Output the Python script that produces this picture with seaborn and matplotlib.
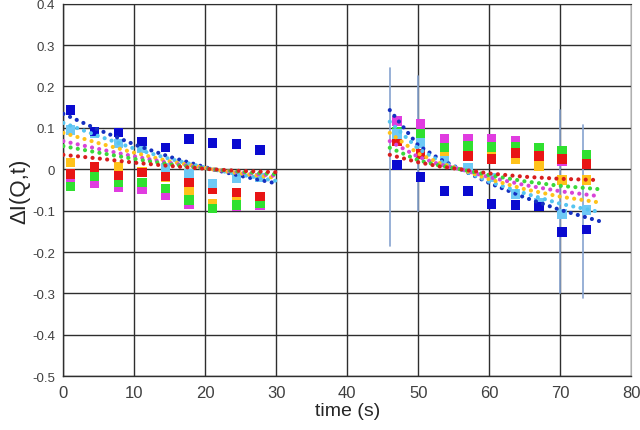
import pandas as pd
import seaborn as sns
import matplotlib.pyplot as plt

sns.set_style("white")
plt.rcParams['font.family'] = ['Liberation Sans', 'DejaVu Sans']

# draw order of the series (last one ends up on top)
series = ["orange", "magenta", "green", "red", "lightblue", "blue"]
sq_colors = {"orange": "#FFC21A", "magenta": "#E03CE0", "green": "#2FE02F",
             "red": "#E81515", "lightblue": "#6EC9F5", "blue": "#0A0AD0"}
dot_colors = {"orange": "#FFC21A", "magenta": "#D844D8", "green": "#3AD83A",
              "red": "#D81E1E", "lightblue": "#55C4F0", "blue": "#1530C0"}

# measured points (squares)
t_left = [1.0, 4.4, 7.8, 11.1, 14.4, 17.7, 21.0, 24.4, 27.7]
t_right = [47.0, 50.3, 53.7, 57.0, 60.3, 63.7, 67.0, 70.3, 73.7]

blue_left = [0.143, 0.091, 0.089, 0.067, 0.052, 0.073, 0.064, 0.061, 0.047]
blue_right = [0.010, -0.019, -0.052, -0.052, -0.084, -0.086, -0.090, -0.151, -0.145]
lightblue_left = [0.095, 0.088, 0.063, 0.051, 0.005, -0.010, -0.034, -0.022, -0.020]
lightblue_right = [0.085, 0.064, 0.020, 0.005, -0.020, -0.060, -0.080, -0.108, -0.098]
orange_left = [0.016, 0.005, 0.006, -0.005, -0.020, -0.052, -0.082, -0.065, -0.070]
orange_right = [0.080, 0.070, 0.040, 0.045, 0.030, 0.024, 0.008, -0.026, -0.026]
magenta_left = [-0.035, -0.034, -0.044, -0.048, -0.062, -0.084, -0.095, -0.090, -0.086]
magenta_right = [0.117, 0.109, 0.073, 0.073, 0.073, 0.069, 0.050, 0.020, 0.015]
green_left = [-0.042, -0.016, -0.032, -0.032, -0.047, -0.074, -0.094, -0.086, -0.082]
green_right = [0.091, 0.085, 0.052, 0.056, 0.054, 0.054, 0.051, 0.045, 0.035]
red_left = [-0.011, 0.006, -0.015, -0.008, -0.018, -0.031, -0.048, -0.056, -0.066]
red_right = [0.067, 0.037, 0.021, 0.032, 0.025, 0.039, 0.032, 0.025, 0.013]

# fitted curves (dotted)
t_fit_left = [0, 5, 10, 15, 21, 25, 30]
t_fit_right = [46, 48, 50, 53, 56, 60, 65, 70, 75.5]

blue_fit_left = [0.134, 0.095, 0.060, 0.030, 0.000, -0.016, -0.034]
lightblue_fit_left = [0.112, 0.080, 0.050, 0.025, 0.000, -0.013, -0.028]
orange_fit_left = [0.088, 0.063, 0.040, 0.019, 0.000, -0.010, -0.021]
magenta_fit_left = [0.068, 0.049, 0.031, 0.015, 0.000, -0.008, -0.016]
green_fit_left = [0.056, 0.040, 0.025, 0.012, 0.000, -0.006, -0.012]
red_fit_left = [0.035, 0.026, 0.016, 0.008, 0.000, -0.004, -0.007]

blue_fit_right = [0.143, 0.100, 0.058, 0.025, 0.000, -0.033, -0.068, -0.098, -0.125]
lightblue_fit_right = [0.115, 0.082, 0.050, 0.020, 0.000, -0.030, -0.058, -0.083, -0.103]
orange_fit_right = [0.088, 0.063, 0.038, 0.015, 0.000, -0.024, -0.048, -0.066, -0.080]
magenta_fit_right = [0.068, 0.049, 0.030, 0.012, 0.000, -0.019, -0.038, -0.053, -0.065]
green_fit_right = [0.052, 0.037, 0.022, 0.009, 0.000, -0.014, -0.029, -0.040, -0.048]
red_fit_right = [0.035, 0.026, 0.017, 0.007, 0.000, -0.010, -0.018, -0.023, -0.026]

# error bars on the light blue points
err_t = [46.1, 50.0, 70.0, 73.2]
err_low = [-0.185, -0.100, -0.300, -0.310]
err_high = [0.245, 0.225, 0.143, 0.107]

sq = {"blue": (blue_left, blue_right), "lightblue": (lightblue_left, lightblue_right),
      "orange": (orange_left, orange_right), "magenta": (magenta_left, magenta_right),
      "green": (green_left, green_right), "red": (red_left, red_right)}
fit = {"blue": (blue_fit_left, blue_fit_right),
       "lightblue": (lightblue_fit_left, lightblue_fit_right),
       "orange": (orange_fit_left, orange_fit_right),
       "magenta": (magenta_fit_left, magenta_fit_right),
       "green": (green_fit_left, green_fit_right),
       "red": (red_fit_left, red_fit_right)}

rows = []
for s in series:
    for t, v in zip(t_left + t_right, sq[s][0] + sq[s][1]):
        rows.append({"t": t, "v": v, "series": s})
squares = pd.DataFrame(rows)

fig = plt.figure(figsize=(6.4, 4.31), dpi=100)
ax = fig.add_axes([0.099, 0.1246, 0.887, 0.8645])

# error bars
for t, lo, hi in zip(err_t, err_low, err_high):
    ax.plot([t, t], [lo, hi], color="#86A3CF", lw=1.2, zorder=2)

sns.scatterplot(data=squares, x="t", y="v", hue="series", palette=sq_colors,
                marker="s", s=46, linewidth=0, legend=False, ax=ax, zorder=3)

for s in ["blue", "lightblue", "orange", "magenta", "green", "red"]:
    for tt, vv in [(t_fit_left, fit[s][0]), (t_fit_right, fit[s][1])]:
        sns.lineplot(x=tt, y=vv, color=dot_colors[s], linewidth=3.0,
                     linestyle=(0, (0.01, 1.75)), dash_capstyle="round",
                     sort=False, errorbar=None, ax=ax, zorder=4)

ax.set_xlim(0, 80)
ax.set_ylim(-0.5, 0.4)
ax.set_xticks(range(0, 81, 10))
ax.set_yticks([-0.5, -0.4, -0.3, -0.2, -0.1, 0, 0.1, 0.2, 0.3, 0.4])
ax.set_yticklabels(["-0.5", "-0.4", "-0.3", "-0.2", "-0.1", "0", "0.1", "0.2", "0.3", "0.4"])
ax.grid(True, color="#2E2E2E", linewidth=1.0)
ax.set_axisbelow(True)

for side in ["left", "bottom"]:
    ax.spines[side].set_color("#2E2E2E")
    ax.spines[side].set_linewidth(1.0)
ax.spines["top"].set_color("#2E2E2E")
ax.spines["right"].set_color("#B0B0B0")

ax.tick_params(axis="both", direction="out", length=4, width=1, color="#2E2E2E",
               labelcolor="#404040")
ax.tick_params(axis="x", labelsize=12, pad=2)
ax.tick_params(axis="y", labelsize=9.5, pad=2)

ax.set_xlabel("time (s)", fontsize=14)
ax.set_ylabel("ΔI(Q,t)", fontsize=16)
ax.xaxis.set_label_coords(0.5, -0.068)
ax.yaxis.set_label_coords(-0.058, 0.5)

plt.savefig("out.png", dpi=100)
